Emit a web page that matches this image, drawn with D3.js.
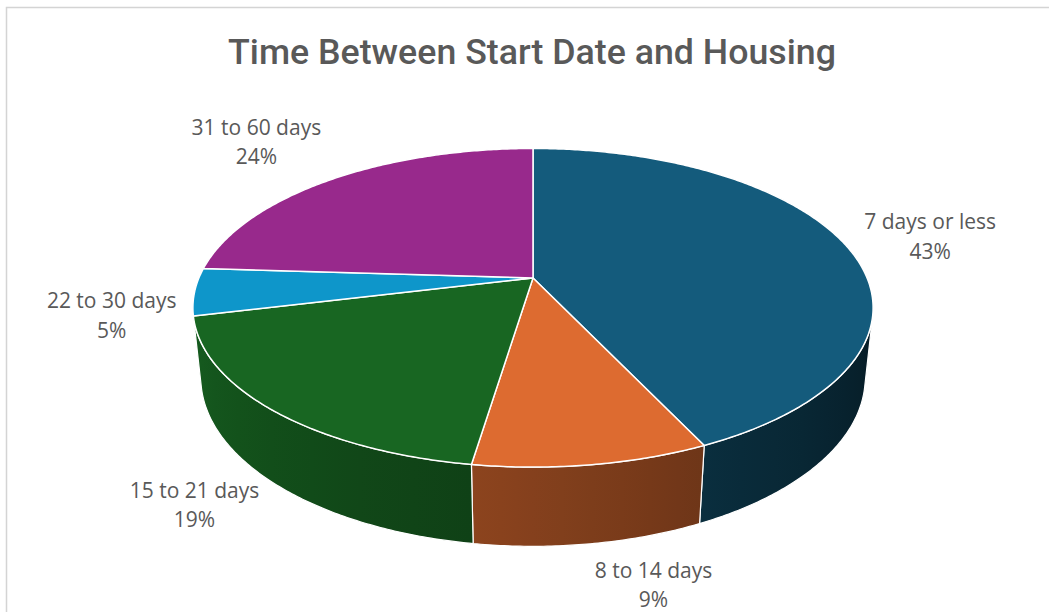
<!DOCTYPE html>
<html>
<head>
<meta charset="utf-8">
<script src="https://cdn.jsdelivr.net/npm/d3@7"></script>
<style>
  body { margin: 0; background: #fff; }
  svg { display: block; }
</style>
</head>
<body>
<script>
// chart data
var categories = ["7 days or less", "8 to 14 days", "15 to 21 days", "22 to 30 days", "31 to 60 days"];
var shares = [43.0, 9.4, 18.8, 4.8, 24.0];
var colors = ["#156082", "#E97132", "#196B24", "#0F9ED5", "#A02B93"];
var title = "Time Between Start Date and Housing";

var w = 1049, h = 612;

// 3d view settings (perspective camera looking down on the disc)
var cx = 533, cy = 278;
var focal = 1587, dist = 4.75, tilt = 27.4 * Math.PI / 180;
var depth = 0.238;

function proj(r, a, z) {
	var x = r * Math.sin(a), y = r * Math.cos(a);
	var d = dist + y * Math.cos(tilt) - z * Math.sin(tilt);
	var v = y * Math.sin(tilt) + z * Math.cos(tilt);
	return [cx + focal * x / d, cy - focal * v / d];
}

// the outer wall faces the camera only inside this angle range
var wallFrom = Math.acos(-1 / (dist * Math.cos(tilt)));
var wallTo = 2 * Math.PI - wallFrom;

function scaleColor(col, k) {
	var c = d3.rgb(col);
	return d3.rgb(c.r * k, c.g * k, c.b * k).formatHex();
}

function shade(col, a) {
	var t = (a - wallFrom) / (wallTo - wallFrom);
	return scaleColor(col, 0.28 + 0.58 * t);
}

function arcPoints(a0, a1, z) {
	var n = Math.max(2, Math.ceil((a1 - a0) / 0.01));
	return d3.range(n + 1).map(function(i) {
		return proj(1, a0 + (a1 - a0) * i / n, z);
	});
}

var pie = d3.pie().sort(null).value(function(d) { return d; });
var arcs = pie(shares);

var svg = d3.select("body").append("svg")
	.attr("width", w)
	.attr("height", h);

var defs = svg.append("defs");

// chart frame
svg.append("rect")
	.attr("x", 6.5)
	.attr("y", 7.5)
	.attr("width", 1100)
	.attr("height", 700)
	.attr("fill", "none")
	.attr("stroke", "#d4d4d4")
	.attr("stroke-width", 1.5);

svg.append("text")
	.attr("x", 532)
	.attr("y", 64)
	.attr("text-anchor", "middle")
	.attr("font-family", "Roboto, sans-serif")
	.attr("font-weight", 500)
	.attr("font-size", 35)
	.attr("fill", "#595959")
	.attr("textLength", 608)
	.attr("lengthAdjust", "spacingAndGlyphs")
	.text(title);

var line = d3.line();

// side walls
arcs.forEach(function(d, i) {
	var s0 = Math.max(d.startAngle, wallFrom), s1 = Math.min(d.endAngle, wallTo);
	if (s1 <= s0) return;
	var top = arcPoints(s0, s1, 0);
	var bottom = arcPoints(s0, s1, -depth).reverse();

	var x1 = top[0][0], x2 = top[top.length - 1][0];
	var grad = defs.append("linearGradient")
		.attr("id", "wall" + i)
		.attr("gradientUnits", "userSpaceOnUse")
		.attr("x1", x1).attr("y1", 0)
		.attr("x2", x2).attr("y2", 0);
	d3.range(9).forEach(function(j) {
		var a = s0 + (s1 - s0) * j / 8;
		var px = proj(1, a, 0)[0];
		grad.append("stop")
			.attr("offset", (px - x1) / (x2 - x1))
			.attr("stop-color", shade(colors[i], a));
	});

	svg.append("path")
		.attr("d", line(top.concat(bottom)) + "Z")
		.attr("fill", "url(#wall" + i + ")")
		.attr("stroke", "#fff")
		.attr("stroke-width", 1.2)
		.attr("stroke-linejoin", "round");
});

// top faces
svg.selectAll("path.slice")
	.data(arcs)
	.enter()
	.append("path")
	.attr("class", "slice")
	.attr("d", function(d) {
		return line([[cx, cy]].concat(arcPoints(d.startAngle, d.endAngle, 0))) + "Z";
	})
	.attr("fill", function(d, i) { return scaleColor(colors[i], 0.95); })
	.attr("stroke", "#fff")
	.attr("stroke-width", 1.5)
	.attr("stroke-linejoin", "round");

// data labels
var total = d3.sum(shares);
arcs.forEach(function(d, i) {
	var m = (d.startAngle + d.endAngle) / 2;
	var front = Math.sqrt(Math.max(0, -Math.cos(m)));
	var p = proj(1.06, m, -depth * front);

	var g = svg.append("g");
	var t = g.append("text")
		.attr("text-anchor", "middle")
		.attr("font-family", "'Open Sans', sans-serif")
		.attr("font-size", 21)
		.attr("fill", "#595959");
	t.append("tspan").attr("x", 0).attr("y", -7.5).text(categories[i]);
	t.append("tspan").attr("x", 0).attr("y", 22).text(Math.round(d.value / total * 100) + "%");

	var hw = t.node().getBBox().width / 2;
	var hh = 29;
	var back = Math.max(0, Math.cos(m));
	var lx = p[0] + Math.sign(Math.sin(m)) * hw;
	var ly = p[1] - Math.cos(m) * hh * (1 + 0.7 * back) - 1.5 * front;
	g.attr("transform", "translate(" + lx + "," + ly + ")");
});
</script>
</body>
</html>
